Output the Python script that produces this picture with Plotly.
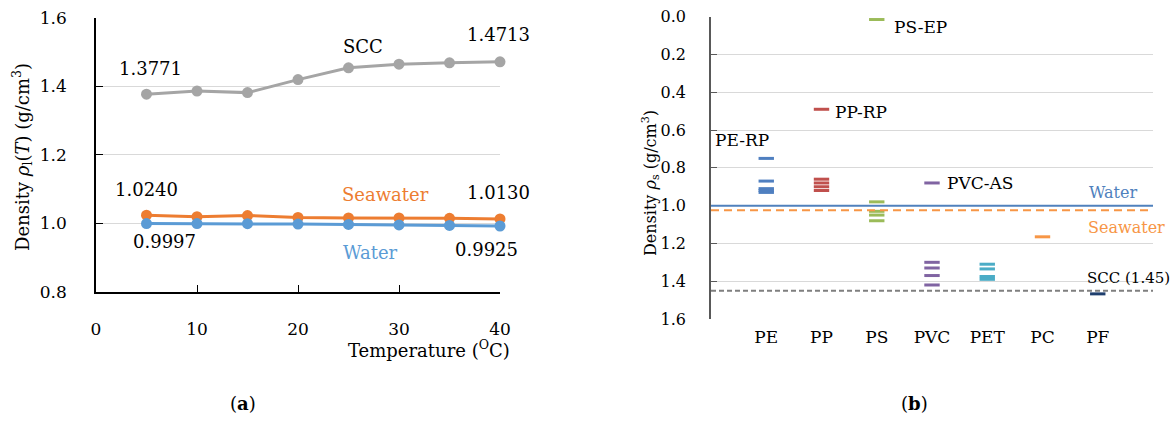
import plotly.graph_objects as go

# ---------------- data: panel (a) ----------------
temperature = [5, 10, 15, 20, 25, 30, 35, 40]
scc_density = [1.3771, 1.386, 1.3815, 1.4195, 1.4537, 1.4644, 1.4683, 1.4713]
seawater_density = [1.0240, 1.0195, 1.0230, 1.0175, 1.0160, 1.0158, 1.0148, 1.0130]
water_density = [0.9997, 0.9997, 0.9991, 0.9982, 0.9970, 0.9956, 0.9941, 0.9925]

# ---------------- data: panel (b) ----------------
categories = ["PE", "PP", "PS", "PVC", "PET", "PC", "PF"]
pe_values = [0.75, 0.87, 0.91, 0.92, 0.93]
pp_values = [0.49, 0.86, 0.88, 0.90, 0.92]
ps_values = [0.015, 0.98, 1.03, 1.05, 1.08]
pvc_values = [0.88, 1.30, 1.33, 1.37, 1.42]
pet_values = [1.31, 1.335, 1.375, 1.39]
pc_values = [1.165]
pf_values = [1.467]
water_ref = 1.0
seawater_ref = 1.025
scc_ref = 1.45

FONT = "DejaVu Serif"
BLACK = "#000000"

fig = go.Figure()

# panel (a) lines
series_a = [
    ("SCC", scc_density, "#A5A5A5"),
    ("Seawater", seawater_density, "#ED7D31"),
    ("Water", water_density, "#5B9BD5"),
]
for name, vals, col in series_a:
    fig.add_trace(go.Scatter(
        x=temperature, y=vals, mode="lines+markers", name=name,
        line=dict(color=col, width=3),
        marker=dict(color=col, size=11),
        xaxis="x", yaxis="y", showlegend=False, cliponaxis=False))

# panel (b) dashes
series_b = [
    (pe_values, "#4F7FC0"),
    (pp_values, "#C0504D"),
    (ps_values, "#9BBB59"),
    (pvc_values, "#8064A2"),
    (pet_values, "#4BACC6"),
    (pc_values, "#F79646"),
    (pf_values, "#1F3F6E"),
]
for cat, (vals, col) in zip(categories, series_b):
    fig.add_trace(go.Scatter(
        x=[cat] * len(vals), y=vals, mode="markers", name=cat,
        marker=dict(symbol="line-ew", size=11, line=dict(color=col, width=3)),
        xaxis="x2", yaxis="y2", showlegend=False, cliponaxis=False))

# reference lines in panel (b)
refs = [(water_ref, "#4F81BD", "solid", 2),
        (seawater_ref, "#F79646", "8px,5px", 2),
        (scc_ref, "#7F7F7F", "5px,3px", 2)]
for val, col, dash, w in refs:
    fig.add_shape(type="line", xref="x2 domain", yref="y2",
                  x0=0, x1=1, y0=val, y1=val,
                  line=dict(color=col, width=w, dash=dash))

ann = []
def A(text, x, y, xref, yref, size, color=BLACK, xanchor="center", **kw):
    ann.append(dict(text=text, x=x, y=y, xref=xref, yref=yref, showarrow=False,
                    xanchor=xanchor, yanchor="middle",
                    font=dict(family=FONT, size=size, color=color), **kw))

# panel (a) labels
A(f"{scc_density[0]:.4f}", 5.35, 1.453, "x", "y", 18)
A("SCC", 26.4, 1.515, "x", "y", 18)
A(f"{scc_density[-1]:.4f}", 39.9, 1.55, "x", "y", 18)
A(f"{seawater_density[0]:.4f}", 4.95, 1.10, "x", "y", 18)
A("Seawater", 28.7, 1.083, "x", "y", 18, color="#ED7D31")
A(f"{seawater_density[-1]:.4f}", 39.9, 1.091, "x", "y", 18)
A(f"{water_density[0]:.4f}", 6.83, 0.946, "x", "y", 18)
A("Water", 27.2, 0.914, "x", "y", 18, color="#5B9BD5")
A(f"{water_density[-1]:.4f}", 38.7, 0.925, "x", "y", 18)

# panel (b) labels (category axis: PE = 0)
A("PE-RP", -0.96, 0.652, "x2", "y2", 17, xanchor="left")
A("PP-RP", 1.21, 0.504, "x2", "y2", 17, xanchor="left")
A("PS-EP", 2.28, 0.055, "x2", "y2", 17, xanchor="left")
A("PVC-AS", 3.24, 0.88, "x2", "y2", 17, xanchor="left")
A("Water", 5.8, 0.933, "x2", "y2", 16, color="#4F81BD", xanchor="left")
A("Seawater", 5.79, 1.118, "x2", "y2", 16, color="#F79646", xanchor="left")
A(f"SCC ({scc_ref:.2f})", 5.77, 1.382, "x2", "y2", 15, xanchor="left")

# axis titles
A("Density <i>ρ</i><sub>l</sub>(<i>T</i>) (g/cm<sup>3</sup>)", 22 / 1175, 1 - 157 / 423,
  "paper", "paper", 18, textangle=-90)
A("Temperature (<sup>O</sup>C)", 512 / 1175, 1 - 349 / 423, "paper", "paper", 18,
  xanchor="right")
A("Density <i>ρ</i><sub>s</sub> (g/cm<sup>3</sup>)", 650 / 1175, 1 - 183 / 423,
  "paper", "paper", 16, textangle=-90)
A("(<b>a</b>)", 243 / 1175, 1 - 403 / 423, "paper", "paper", 18)
A("(<b>b</b>)", 914 / 1175, 1 - 403 / 423, "paper", "paper", 18)

tickfont_a = dict(family=FONT, size=17, color=BLACK)
tickfont_b = dict(family=FONT, size=16, color=BLACK)
tickfont_bx = dict(family=FONT, size=17, color=BLACK)

fig.update_layout(
    width=1175, height=423,
    margin=dict(l=0, r=0, t=0, b=0, pad=0, autoexpand=False),
    paper_bgcolor="white", plot_bgcolor="white",
    annotations=ann,
    xaxis=dict(domain=[96 / 1175, 500 / 1175], range=[0, 40], dtick=10,
               showline=True, linecolor=BLACK, linewidth=1.5,
               ticks="inside", ticklen=7, tickcolor=BLACK,
               showgrid=False, zeroline=False, tickfont=tickfont_a,
               ticklabelstandoff=21, anchor="y", automargin=False),
    yaxis=dict(domain=[(423 - 292) / 423, (423 - 17.7) / 423], range=[0.8, 1.6],
               dtick=0.2, tickformat=".1f",
               showline=True, linecolor=BLACK, linewidth=1.5,
               ticks="inside", ticklen=7, tickcolor=BLACK,
               showgrid=True, gridcolor="#D9D9D9", gridwidth=1,
               zeroline=False, tickfont=tickfont_a,
               ticklabelstandoff=24, anchor="x", automargin=False),
    xaxis2=dict(domain=[711 / 1175, 1153 / 1175], type="category",
                categoryorder="array", categoryarray=categories,
                range=[-1, 7], showline=False, ticks="",
                showgrid=False, zeroline=False, tickfont=tickfont_bx,
                ticklabelstandoff=6, anchor="y2", automargin=False),
    yaxis2=dict(domain=[(423 - 319) / 423, (423 - 16.7) / 423], range=[1.6, 0],
                dtick=0.2, tickformat=".1f",
                showline=True, linecolor="#595959", linewidth=1.5,
                ticks="inside", ticklen=6, tickcolor="#595959",
                showgrid=True, gridcolor="#D9D9D9", gridwidth=1,
                zeroline=False, tickfont=tickfont_b,
                ticklabelstandoff=20, anchor="x2", automargin=False),
)

fig.write_html("out.html")
